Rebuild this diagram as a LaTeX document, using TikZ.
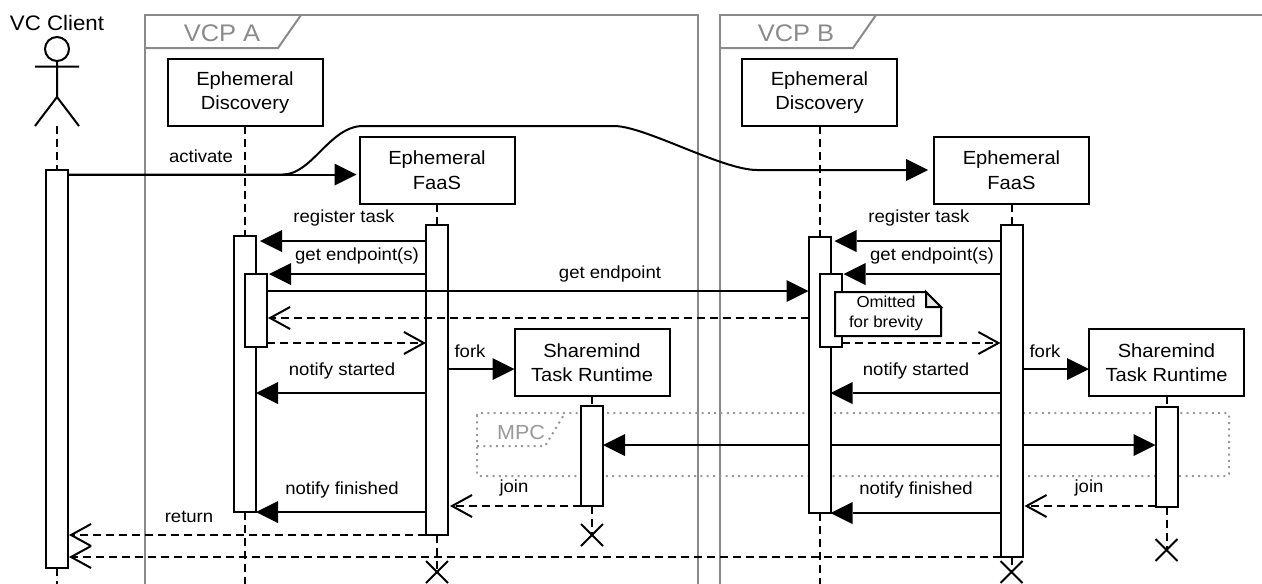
\documentclass[tikz,border=0pt]{standalone}
\usepackage{fontspec}
\setmainfont[FakeStretch=1.06]{Liberation Sans}
\usetikzlibrary{arrows.meta,shapes.misc}
\pgfdeclarelayer{under}
\pgfsetlayers{under,main}
\definecolor{framegray}{HTML}{8A8A8A}
\definecolor{mpcgray}{HTML}{999999}
\definecolor{foldgray}{HTML}{E8E8E8}
\tikzset{
  x=1pt,y=-1pt,
  thick line/.style={line width=2pt,black},
  box/.style={draw,thick line,fill=white,rectangle,inner sep=0pt,outer sep=0pt,minimum width=155pt,minimum height=67pt,align=center,font=\fontsize{19}{24.5}\selectfont},
  act/.style={draw,thick line,fill=white,rectangle,inner sep=0pt,outer sep=0pt,minimum width=22pt},
  life/.style={thick line,dash pattern=on 8pt off 5pt},
  msg/.style={thick line,-{Triangle[length=22pt,width=22pt,line width=0pt]}},
  msgboth/.style={thick line,{Triangle[length=22pt,width=22pt,line width=0pt]}-{Triangle[length=22pt,width=22pt,line width=0pt]}},
  reply/.style={thick line,dash pattern=on 8pt off 5pt,-{Straight Barb[length=20pt,width=22pt,line width=2pt]}},
  lab/.style={inner sep=0pt,font=\fontsize{17.5}{22}\selectfont},
  framel/.style={line width=2pt,framegray},
  framet/.style={inner sep=0pt,text=framegray,font=\fontsize{24}{28}\selectfont},
  mpcl/.style={line width=2pt,mpcgray,dash pattern=on 2pt off 4.3pt},
  cross/.style={cross out,draw,thick line,inner sep=0pt,outer sep=0pt,minimum size=22pt},
}
\begin{document}
\begin{tikzpicture}
\useasboundingbox (0,0) rectangle (1262,584);

% participants
\node[lab,font=\fontsize{21}{24}\selectfont] (clientlab) at (57,23) {VC Client};
\node[circle,draw,thick line,fill=white,minimum size=24pt,inner sep=0pt,outer sep=0pt] (head) at (57,49) {};
\coordinate (hip) at (57,97);
\coordinate (armL) at (35,66.7);
\coordinate (armR) at (79,66.7);
\coordinate (footL) at (35,126);
\coordinate (footR) at (79,126);
\coordinate (clientfoot) at (57,126);
\draw[thick line] (head.south) -- (hip) (armL) -- (armR) (footL) -- (hip) -- (footR);

\node[box] (discA) at (245,92.5) {Ephemeral\\Discovery};
\node[box] (faasA) at (437,170) {Ephemeral\\FaaS};
\node[box] (shareA) at (592,362.5) {Sharemind\\Task Runtime};
\node[box] (discB) at (819.5,92.5) {Ephemeral\\Discovery};
\node[box] (faasB) at (1011.5,170) {Ephemeral\\FaaS};
\node[box] (shareB) at (1166.5,362.5) {Sharemind\\Task Runtime};

% activations
\node[act,minimum height=398pt] (ca) at (57,369) {};
\node[act,minimum height=276pt] (da) at (245,374) {};
\node[act,minimum height=73pt] (da2) at (256,310.5) {};
\node[act,minimum height=310pt] (fa) at (437,380) {};
\node[act,minimum height=100pt] (sa) at (592,456) {};
\node[act,minimum height=276pt] (db) at (819.5,374.5) {};
\node[act,minimum height=73pt] (db2) at (830.5,310.5) {};
\node[act,minimum height=332pt] (fb) at (1011.5,391) {};
\node[act,minimum height=100pt] (sb) at (1166.5,456.5) {};

% destruction marks
\node[cross] (xfa) at (437,572) {};
\node[cross] (xsa) at (592,535) {};
\node[cross] (xfb) at (1011.5,572) {};
\node[cross] (xsb) at (1166.5,550) {};

\coordinate (endC) at (57,584);
\coordinate (endDA) at (245,584);
\coordinate (endDB) at (819.5,584);

\begin{pgfonlayer}{under}
  % frames
  \draw[framel] (145,584) -- (145,15) -- (697.5,15) -- (697.5,584);
  \draw[framel] (145,48) -- (278,48) -- (301,15);
  \node[framet] (vcpa) at (222,33) {VCP A};
  \draw[framel] (720,584) -- (720,15) -- (1262,15);
  \draw[framel] (720,48) -- (853,48) -- (876,15);
  \node[framet] (vcpb) at (796,33) {VCP B};
  % lifelines
  \draw[life] (clientfoot) -- (ca.north);
  \draw[life] (ca.south) -- (endC);
  \draw[life] (discA.south) -- (da.north);
  \draw[life] (da.south) -- (endDA);
  \draw[life] (faasA.south) -- (fa.north);
  \draw[life] (fa.south) -- (xfa.center);
  \draw[life] (shareA.south) -- (sa.north);
  \draw[life] (sa.south) -- (xsa.center);
  \draw[life] (discB.south) -- (db.north);
  \draw[life] (db.south) -- (endDB);
  \draw[life] (faasB.south) -- (fb.north);
  \draw[life] (fb.south) -- (xfb.center);
  \draw[life] (shareB.south) -- (sb.north);
  \draw[life] (sb.south) -- (xsb.center);
  % MPC frame
  \draw[mpcl,rounded corners=2pt] (477,413) rectangle (1229,476);
  \draw[mpcl] (477,446) -- (545,446) -- (565,413);
  \node[inner sep=0pt,text=mpcgray,font=\fontsize{20.3}{24}\selectfont] (mpc) at (521,433) {MPC};
  % MPC message, behind the activations
  \draw[msgboth] (sa.east |- 0,445) -- (sb.west |- 0,445);
\end{pgfonlayer}

% activate
\draw[msg,shorten >=3pt] (ca.east |- 0,174.5) -- (faasA.west |- 0,174.5);
\draw[thick line,-{Triangle[length=22pt,width=22pt,line width=0pt]},shorten >=6pt,line join=round]
  (ca.east |- 0,174.5) -- (283,174.5) .. controls (312,174.5) and (330,126) .. (363,126)
  -- (614,126) .. controls (645,126) and (722,170) .. (757,170) -- (faasB.west |- 0,170);
\node[lab] (l1) at (201,156) {activate};

% VCP A messages
\draw[msg,shorten >=4pt] (fa.west |- 0,241) -- (da.east |- 0,241);
\node[lab] (l2) at (344,218) {register task};
\draw[msg,shorten >=2pt] (fa.west |- 0,274) -- (da2.east |- 0,274);
\node[lab] (l3) at (357,256) {get endpoint(s)};
\draw[msg] (da2.east |- 0,291) -- (db.west |- 0,291);
\node[lab] (l4) at (610,274) {get endpoint};
\draw[reply,shorten >=1pt] (db.west |- 0,318) -- (da2.east |- 0,318);
\draw[reply] (da2.east |- 0,343) -- (fa.west |- 0,343);
\draw[msg] (fa.west |- 0,393) -- (da.east |- 0,393);
\node[lab] (l5) at (342,371) {notify started};
\draw[msg] (fa.east |- 0,369) -- (shareA.west |- 0,369);
\node[lab] (l6) at (470,351) {fork};
\draw[msg] (fa.west |- 0,512) -- (da.east |- 0,512);
\node[lab] (l7) at (342,490) {notify finished};
\draw[reply,shorten >=2pt] (sa.west |- 0,506) -- (fa.east |- 0,506);
\node[lab] (l8) at (514,488) {join};
\draw[reply,shorten >=1pt] (fa.west |- 0,535) -- (ca.east |- 0,535);
\node[lab] (l9) at (189,517) {return};
\draw[reply,shorten >=1pt] (fb.west |- 0,557) -- (ca.east |- 0,557);

% VCP B messages
\draw[msg,shorten >=4pt] (fb.west |- 0,241) -- (db.east |- 0,241);
\node[lab] (l10) at (919,218) {register task};
\draw[msg,shorten >=2pt] (fb.west |- 0,274) -- (db2.east |- 0,274);
\node[lab] (l11) at (932,256) {get endpoint(s)};
\draw[reply] (db2.east |- 0,343) -- (fb.west |- 0,343);
\draw[msg] (fb.west |- 0,393) -- (db.east |- 0,393);
\node[lab] (l12) at (916,371) {notify started};
\draw[msg] (fb.east |- 0,369) -- (shareB.west |- 0,369);
\node[lab] (l13) at (1045,351) {fork};
\draw[msg] (fb.west |- 0,513) -- (db.east |- 0,513);
\node[lab] (l14) at (916,490) {notify finished};
\draw[reply,shorten >=2pt] (sb.west |- 0,506) -- (fb.east |- 0,506);
\node[lab] (l15) at (1089,488) {join};

% note
\draw[thick line,fill=white,line join=miter] (835,292) -- (926,292) -- (941,307) -- (941,336) -- (835,336) -- cycle;
\draw[thick line,fill=foldgray] (926,292) -- (941,307) -- (926,307) -- cycle;
\node[inner sep=0pt,align=center,font=\fontsize{15.9}{20}\selectfont] (note) at (886,313) {Omitted\\for brevity};
\end{tikzpicture}
\end{document}
